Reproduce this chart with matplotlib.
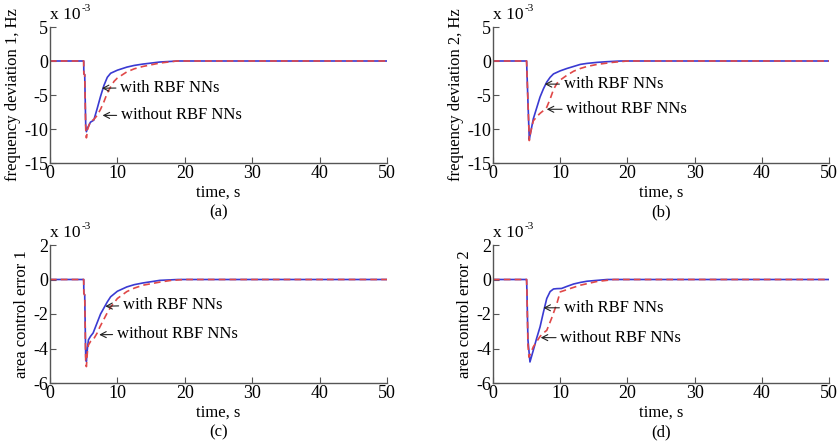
import matplotlib
matplotlib.use('Agg')
from matplotlib import pyplot as plt

plt.rcParams['font.family'] = ['Liberation Serif', 'DejaVu Serif']
plt.rcParams['font.size'] = 12

# frequency deviation of area 1 (x 10^-3 Hz)
t_a_nn = [0, 5.0, 5.02, 5.15, 5.3, 5.4, 5.6, 6.0, 6.5, 7.0, 7.5, 8.0, 8.5, 9.0, 10, 11.4, 12.5, 13.8, 16.3, 19, 50]
f1_nn = [0, 0, -1.9, -2.0, -9.5, -10.4, -9.8, -9.0, -8.7, -7.0, -5.2, -3.6, -2.4, -1.8, -1.35, -0.9, -0.65, -0.45, -0.15, 0, 0]
t_a_no = [0, 5.0, 5.02, 5.15, 5.3, 5.4, 5.6, 6.0, 6.5, 7.0, 7.5, 8.0, 8.5, 9.0, 9.5, 10, 11.4, 12.5, 13.8, 16.3, 18.8, 50]
f1_no = [0, 0, -1.9, -2.0, -10.0, -11.3, -10.0, -8.9, -8.6, -8.0, -7.1, -6.0, -4.7, -3.8, -3.0, -2.5, -1.6, -1.15, -0.8, -0.3, 0, 0]

# frequency deviation of area 2 (x 10^-3 Hz)
t_b_nn = [0, 5.0, 5.05, 5.2, 5.4, 5.6, 6.0, 6.5, 7.0, 7.5, 8.0, 8.5, 9.0, 10, 11, 12, 13, 14, 15.5, 17, 19, 50]
f2_nn = [0, 0, -1.5, -6.0, -11.5, -10.5, -8.5, -6.9, -5.3, -4.1, -3.1, -2.4, -1.9, -1.45, -1.1, -0.8, -0.5, -0.35, -0.2, -0.1, 0, 0]
t_b_no = [0, 5.0, 5.05, 5.2, 5.4, 5.6, 6.0, 6.5, 7.0, 7.5, 8.0, 8.5, 9.0, 9.5, 10, 11, 12, 13, 14, 15.5, 17.8, 20, 50]
f2_no = [0, 0, -1.5, -6.0, -11.7, -10.5, -8.8, -8.2, -7.7, -7.3, -6.8, -5.6, -4.2, -3.3, -2.8, -2.1, -1.5, -1.1, -0.8, -0.5, -0.2, 0, 0]

# area control error 1 (x 10^-3)
t_c_nn = [0, 5.0, 5.02, 5.15, 5.3, 5.4, 5.55, 5.7, 6.0, 6.4, 7.0, 7.5, 8.0, 8.5, 9.0, 10, 11.4, 12.5, 13.8, 16.3, 19, 50]
ace1_nn = [0, 0, -0.8, -0.9, -4.5, -4.75, -4.0, -3.5, -3.3, -3.1, -2.5, -2.0, -1.65, -1.3, -1.0, -0.68, -0.43, -0.3, -0.2, -0.05, 0, 0]
t_c_no = [0, 5.0, 5.02, 5.15, 5.3, 5.4, 5.55, 5.7, 6.0, 6.4, 7.0, 7.4, 8.0, 8.4, 9.0, 9.4, 10, 11.4, 12.5, 13.8, 16.3, 18, 20, 50]
ace1_no = [0, 0, -0.8, -0.9, -4.8, -5.05, -4.2, -3.8, -3.6, -3.5, -3.1, -2.75, -2.3, -2.0, -1.6, -1.4, -1.1, -0.7, -0.5, -0.33, -0.15, -0.05, 0, 0]

# area control error 2 (x 10^-3)
t_d_nn = [0, 5.0, 5.05, 5.2, 5.5, 6.0, 6.5, 7.0, 7.5, 8.0, 8.5, 9.0, 9.5, 10.2, 11, 12, 13, 14, 15.5, 17, 50]
ace2_nn = [0, 0, -0.7, -3.5, -4.78, -4.1, -3.4, -2.75, -1.9, -1.1, -0.7, -0.55, -0.53, -0.52, -0.4, -0.26, -0.17, -0.1, -0.05, 0, 0]
t_d_no = [0, 5.0, 5.05, 5.2, 5.35, 6.0, 6.5, 7.0, 7.5, 8.0, 8.7, 9.5, 10.0, 11.5, 13, 15.4, 18, 50]
ace2_no = [0, 0, -0.7, -3.8, -4.5, -3.9, -3.6, -3.3, -3.1, -2.95, -2.27, -1.4, -0.72, -0.52, -0.33, -0.12, 0, 0]

ylabels = ['frequency deviation 1, Hz', 'frequency deviation 2, Hz',
           'area control error 1', 'area control error 2']
captions = ['(a)', '(b)', '(c)', '(d)']
ylims = [(-15, 5), (-15, 5), (-6, 2), (-6, 2)]
yticks = [[-15, -10, -5, 0, 5], [-15, -10, -5, 0, 5], [-6, -4, -2, 0, 2], [-6, -4, -2, 0, 2]]

# (tip x, tip y, text x, text y) for the two labels in each panel
with_pos = [(7.7, -4.0, 10.4, -3.9), (7.7, -3.4, 10.5, -3.4), (8.2, -1.55, 10.8, -1.45), (7.5, -1.64, 10.5, -1.64)]
without_pos = [(7.8, -8.0, 10.5, -8.0), (8.0, -7.1, 10.9, -7.1), (7.3, -3.2, 9.9, -3.15), (7.1, -3.37, 10.0, -3.37)]

series = [(t_a_nn, f1_nn, t_a_no, f1_no), (t_b_nn, f2_nn, t_b_no, f2_no),
          (t_c_nn, ace1_nn, t_c_no, ace1_no), (t_d_nn, ace2_nn, t_d_no, ace2_no)]

fig = plt.figure(figsize=(8.4, 4.45), dpi=100)
W, H = 840.0, 445.0
boxes = [(50, 27, 337, 136), (493, 27, 336, 136), (50, 245, 337, 138), (493, 245, 336, 138)]

for i in range(4):
    x0, y0, w, h = boxes[i]
    ax = fig.add_axes([x0 / W, 1 - (y0 + h) / H, w / W, h / H])
    t1, v1, t2, v2 = series[i]
    ax.plot(t1, v1, color='#3a3ad2', lw=1.2)
    ax.plot(t2, v2, color='#e04848', lw=1.2, ls=(0, (4, 2.5)))

    ax.set_xlim(0, 50)
    ax.set_ylim(*ylims[i])
    ax.set_xticks([0, 10, 20, 30, 40, 50])
    ax.set_yticks(yticks[i])
    ax.set_yticklabels([str(v) for v in yticks[i]])
    for s in ['top', 'right']:
        ax.spines[s].set_visible(False)
    for s in ['left', 'bottom']:
        ax.spines[s].set_color('#555555')
        ax.spines[s].set_linewidth(1.0)
    ax.tick_params(direction='in', length=4, width=0.8, color='#555555', pad=1.5, labelsize=13)

    ax.set_ylabel(ylabels[i], labelpad=2)
    ax.set_xlabel('time, s', labelpad=2)
    ax.text(0.5, -0.36, captions[i], transform=ax.transAxes, ha='center', va='center')

    ax.annotate('x 10', xy=(0, 1), xycoords='axes fraction', xytext=(0, 3),
                textcoords='offset points', ha='left', va='bottom', fontsize=12.5)
    ax.annotate('-3', xy=(0, 1), xycoords='axes fraction', xytext=(23, 10),
                textcoords='offset points', ha='left', va='bottom', fontsize=8)

    arrow = dict(arrowstyle='->,head_length=0.35,head_width=0.18', lw=0.8, color='#222222',
                 shrinkA=1, shrinkB=0)
    tx, ty, lx, ly = with_pos[i]
    ax.annotate('with RBF NNs', xy=(tx, ty), xytext=(lx, ly), va='center', ha='left',
                arrowprops=arrow)
    tx, ty, lx, ly = without_pos[i]
    ax.annotate('without RBF NNs', xy=(tx, ty), xytext=(lx, ly), va='center', ha='left',
                arrowprops=arrow)

fig.savefig('out.png', dpi=100)
